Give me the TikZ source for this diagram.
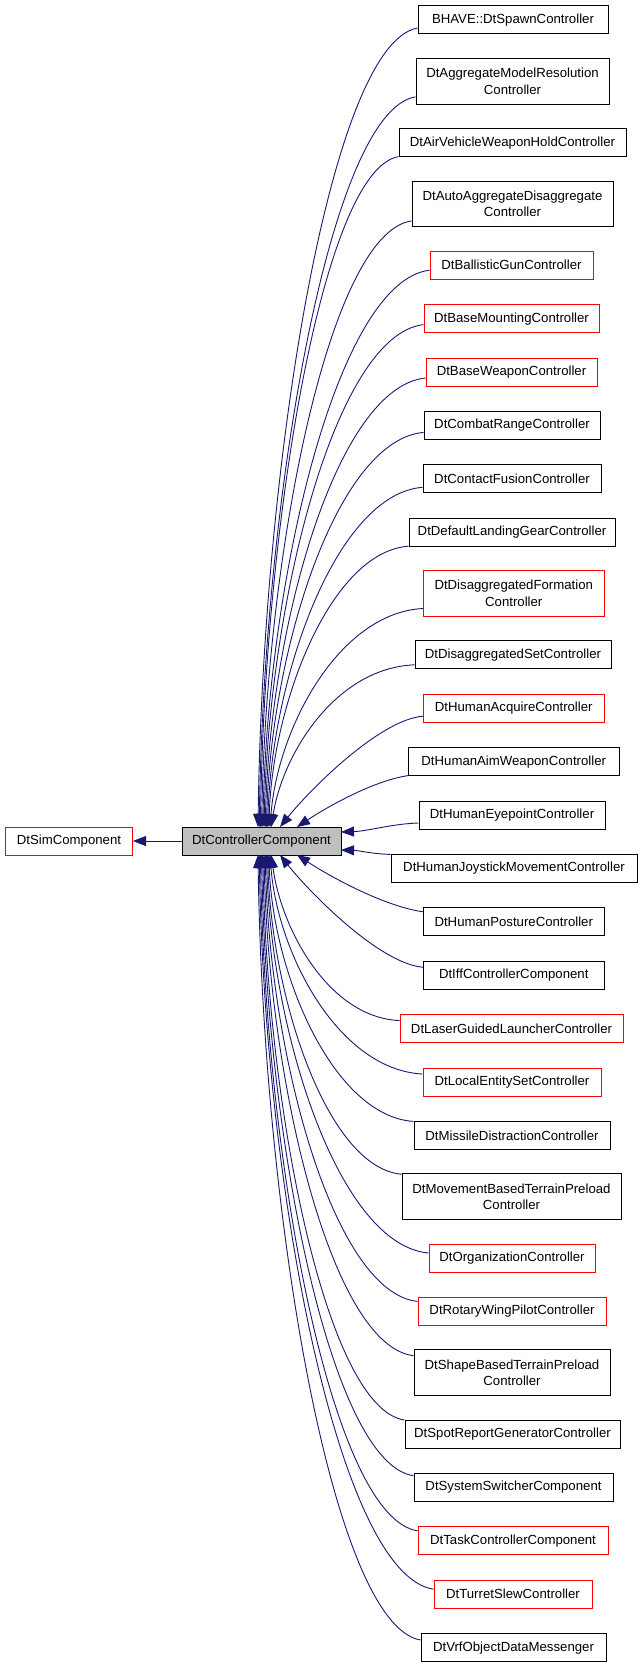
\documentclass[tikz,border=0pt]{standalone}
\usepackage{fontspec}
\setmainfont{Liberation Sans}
\usetikzlibrary{arrows.meta,calc}
\definecolor{edgeblue}{HTML}{191970}
\definecolor{boxred}{HTML}{FF0000}
\definecolor{boxgray}{HTML}{BFBFBF}
\newcommand\boxfont{\fontsize{13.2}{16.5}\selectfont}
\tikzset{
  box/.style={draw=black, line width=1pt, fill=white, inner sep=0pt, align=center, font=\boxfont},
  edge/.style={draw=edgeblue, line width=0.9pt, -{Triangle[length=13pt,width=10pt,fill=edgeblue]}},
}
\begin{document}
\begin{tikzpicture}[x=1pt,y=-1pt]
\useasboundingbox (0,0) rectangle (640,1667);
\node[box, fill=boxgray, minimum width=159pt, minimum height=28pt] (p) at (261.5,841) {DtControllerComponent};
\node[box, draw=boxred, minimum width=127pt, minimum height=28pt] (sim) at (69,841) {DtSimComponent};
\draw[edge] (p.west) -- (sim.east);
\foreach \n/\lx/\rx/\cy/\hh/\col/\txt/\kd/\ex/\ey/\pa/\pb/\pc/\pe in {
 1/418/608/20/28/black/{BHAVE::DtSpawnController}/8/258.0/827/.55/.02/.03/.45,
 2/416/609/81.3/45.5/black/{DtAggregateModelResolution\\Controller}/15.5/259.2/827/.55/.02/.03/.45,
 3/399/626/142.6/28/black/{DtAirVehicleWeaponHoldController}/14/260.4/827/.55/.02/.03/.45,
 4/412/613/203.9/45.5/black/{DtAutoAggregateDisaggregate\\Controller}/17/261.6/827/.55/.02/.03/.45,
 5/430/593/265.2/28/boxred/{DtBallisticGunController}/5/262.8/827/.55/.02/.03/.45,
 6/424/599/318.6/28/boxred/{DtBaseMountingController}/6/264.0/827/.55/.02/.03/.45,
 7/426/597/372.0/28/boxred/{DtBaseWeaponController}/6/265.2/827/.55/.02/.03/.45,
 8/424/600/425.4/28/black/{DtCombatRangeController}/7/266.4/827/.55/.02/.03/.45,
 9/423/601/478.8/28/black/{DtContactFusionController}/8.5/267.6/827/.55/.02/.03/.45,
 10/409/615/532.2/28/black/{DtDefaultLandingGearController}/14/268.8/827/.55/.02/.03/.45,
 11/423.5/604/593.5/45.5/boxred/{DtDisaggregatedFormation\\Controller}/15/270.0/827/.55/.02/.05/.45,
 12/415/611/654.8/28/black/{DtDisaggregatedSetController}/10/271.2/827/.55/.02/.08/.45,
 13/423.5/604/708.2/28/boxred/{DtHumanAcquireController}/8/280/827/.3/.03/.21/.34,
 14/408.5/619/761.6/28/black/{DtHumanAimWeaponController}/14/297/827/.31/.1/.27/.39,
 15/419/605/815.0/28/black/{DtHumanEyepointController}/8/341/832/.35/.1/.35/.1,
 16/391/637/868.4/28/black/{DtHumanJoystickMovementController}/-14/341/850/.35/.1/.35/.1,
 17/423.5/604/921.8/28/black/{DtHumanPostureController}/-10/297/855/.31/.1/.27/.39,
 18/423.5/604/975.2/28/black/{DtIffControllerComponent}/-8/280/855/.3/.03/.21/.34,
 19/400/623/1028.6/28/boxred/{DtLaserGuidedLauncherController}/-8/271.2/855/.55/.02/.08/.45,
 20/423/601/1082.0/28/boxred/{DtLocalEntitySetController}/-8/270.0/855/.55/.02/.05/.45,
 21/414/610/1135.4/28/black/{DtMissileDistractionController}/-14/268.8/855/.55/.02/.03/.45,
 22/402/621/1196.7/45.5/black/{DtMovementBasedTerrainPreload\\Controller}/-22.5/267.6/855/.55/.02/.03/.45,
 23/429/595/1258.0/28/boxred/{DtOrganizationController}/-5/266.4/855/.55/.02/.03/.45,
 24/418/606/1311.4/28/boxred/{DtRotaryWingPilotController}/-10/265.2/855/.55/.02/.03/.45,
 25/414/610/1372.7/45.5/black/{DtShapeBasedTerrainPreload\\Controller}/-17/264.0/855/.55/.02/.03/.45,
 26/405/620/1434.0/28/black/{DtSpotReportGeneratorController}/-14/262.8/855/.55/.02/.03/.45,
 27/414/613/1487.4/28/black/{DtSystemSwitcherComponent}/-11.7/261.6/855/.55/.02/.03/.45,
 28/418/608/1540.8/28/boxred/{DtTaskControllerComponent}/-10/260.4/855/.55/.02/.03/.45,
 29/434/592/1594.2/28/boxred/{DtTurretSlewController}/-5/259.2/855/.55/.02/.03/.45,
 30/421/606/1647.6/28/black/{DtVrfObjectDataMessenger}/-7.6/258.0/855/.55/.02/.03/.45}
{
  \pgfmathsetmacro\ww{\rx-\lx}
  \pgfmathsetmacro\xc{(\rx+\lx)/2}
  \node[box, draw=\col, minimum width=\ww pt, minimum height=\hh pt] (c\n) at (\xc,\cy) {\txt};
  \pgfmathsetmacro\sy{\cy+\kd}
  \pgfmathsetmacro\ddx{\lx-\ex}
  \pgfmathsetmacro\ddy{\ey-\sy}
  \pgfmathsetmacro\pax{-\pa*\ddx}
  \pgfmathsetmacro\pay{\pb*\ddy}
  \pgfmathsetmacro\pbx{\pc*\ddx}
  \pgfmathsetmacro\pby{-\pe*\ddy}
  \pgfmathsetmacro\eox{\ex-261.5}
  \pgfmathsetmacro\eoy{\ey-841}
  \draw[edge] ($(c\n.west)+(0,\kd)$) .. controls +(\pax,\pay) and +(\pbx,\pby) .. ($(p.center)+(\eox,\eoy)$);
}
\end{tikzpicture}
\end{document}
